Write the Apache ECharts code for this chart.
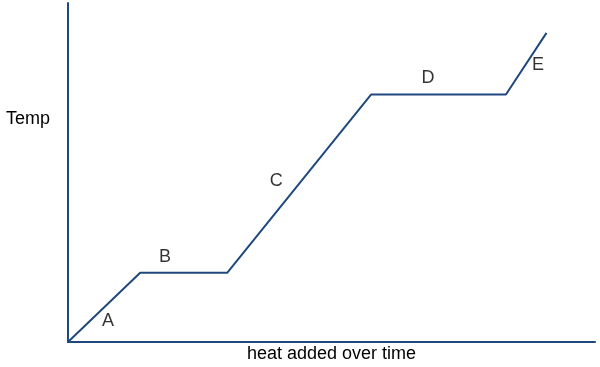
<!DOCTYPE html>
<html><head><meta charset="utf-8">
<script src="https://cdn.jsdelivr.net/npm/echarts@6/dist/echarts.min.js"></script>
<style>html,body{margin:0;padding:0;background:#fff}#c{width:600px;height:367px}</style>
</head><body><div id="c"></div>
<script>
var heatX = [0, 13.7, 30.2, 57.5, 83.1, 90.8];
var tempY = [0, 20.4, 20.4, 73.0, 73.0, 91.2];
var phaseLabels = ['A', 'B', 'C', 'D', 'E'];
var labelX = [7.6, 18.4, 39.5, 68.3, 89.2];
var labelY = [6.2, 25.1, 47.5, 77.9, 81.7];
var xName = 'heat added over time';
var yName = 'Temp';

var lineColor = '#1f497d';
var chart = echarts.init(document.getElementById('c'), null, {renderer: 'canvas'});
chart.setOption({
  animation: false,
  grid: {left: 68, right: 5, top: 3, bottom: 25, outerBoundsMode: 'none', containLabel: false},
  xAxis: {
    type: 'value', min: 0, max: 100,
    axisLine: {show: true, lineStyle: {color: lineColor, width: 2}},
    axisTick: {show: false}, axisLabel: {show: false}, splitLine: {show: false},
    name: xName, nameLocation: 'middle', nameGap: 3,
    nameTextStyle: {color: '#000', fontSize: 18, fontFamily: 'Liberation Sans', verticalAlign: 'top'}
  },
  yAxis: {
    type: 'value', min: 0, max: 100,
    axisLine: {show: true, lineStyle: {color: lineColor, width: 2}},
    axisTick: {show: false}, axisLabel: {show: false}, splitLine: {show: false}
  },
  graphic: [{
    type: 'text', left: 6, top: 110,
    style: {text: yName, fill: '#000', font: '18px "Liberation Sans"'}
  }],
  series: [{
    type: 'line',
    data: heatX.map(function (x, i) { return [x, tempY[i]]; }),
    symbol: 'none',
    lineStyle: {color: lineColor, width: 2}
  }, {
    type: 'scatter',
    data: labelX.map(function (x, i) { return [x, labelY[i], phaseLabels[i]]; }),
    symbolSize: 0,
    label: {
      show: true, position: 'inside',
      formatter: function (p) { return p.data[2]; },
      color: '#000', fontSize: 18, fontFamily: 'Liberation Sans'
    }
  }]
});
</script></body></html>
